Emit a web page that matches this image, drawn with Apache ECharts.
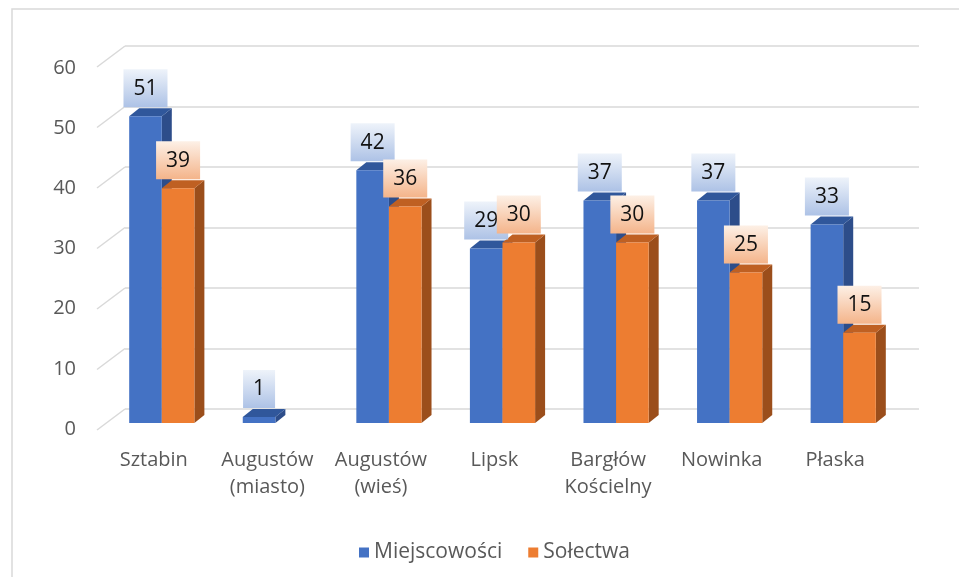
<!DOCTYPE html>
<html>
<head>
<meta charset="utf-8">
<script src="https://cdn.jsdelivr.net/npm/echarts@6/dist/echarts.min.js"></script>
<style>
html,body{margin:0;padding:0;background:#fff;}
#chart{width:959px;height:577px;}
</style>
</head>
<body>
<div id="chart"></div>
<script>
const categories = ['Sztabin', 'Augustów\n(miasto)', 'Augustów\n(wieś)', 'Lipsk', 'Bargłów\nKościelny', 'Nowinka', 'Płaska'];
const miejscowosci = [51, 1, 42, 29, 37, 37, 33];
const solectwa = [39, null, 36, 30, 30, 25, 15];
const yTicks = [0, 10, 20, 30, 40, 50, 60];
const seriesNames = ['Miejscowości', 'Sołectwa'];

const FONT = '"Open Sans", "Noto Sans", sans-serif';
const DX = 10, DY = 8;          // bar depth
const WALL_DX = -28, WALL_DY = 21; // floor/wall depth for grid diagonals

const palette = [
  { front: '#4472c4', side: '#2d4d8a', top: '#30579b', lab0: '#eef3fa', lab1: '#adc2e6' },
  { front: '#ed7d31', side: '#9b4e1b', top: '#bf6022', lab0: '#fdf0e6', lab1: '#f4b48a' }
];

function barRenderer(sIdx) {
  return function (params, api) {
    const ci = api.value(0), v = api.value(1);
    if (v == null || isNaN(v)) return null;
    const base = api.coord([ci, 0]);
    const topP = api.coord([ci, v]);
    const band = api.size([1, 0])[0];
    const w = band * 0.287;
    const x0 = sIdx === 0 ? base[0] - w : base[0];
    const x1 = x0 + w;
    const yB = base[1], yT = topP[1];
    const c = palette[sIdx];
    const z = sIdx + 1;
    return {
      type: 'group',
      children: [
        { type: 'polygon', z2: z, shape: { points: [[x1, yB], [x1 + DX, yB - DY], [x1 + DX, yT - DY], [x1, yT]] }, style: { fill: c.side } },
        { type: 'polygon', z2: z, shape: { points: [[x0, yT], [x0 + DX, yT - DY], [x1 + DX, yT - DY], [x1, yT]] }, style: { fill: c.top } },
        { type: 'rect', z2: z, shape: { x: x0, y: yT, width: w, height: yB - yT }, style: { fill: c.front } },
        {
          type: 'text', z2: 20, x: (x0 + x1) / 2, y: yT - DY - 1,
          style: {
            text: String(v), fill: '#111111', font: '21px ' + FONT,
            align: 'center', verticalAlign: 'bottom',
            padding: [9, 10, 8, 10],
            backgroundColor: new echarts.graphic.LinearGradient(0, 0, 0, 1, [
              { offset: 0, color: c.lab0 }, { offset: 1, color: c.lab1 }
            ])
          }
        }
      ]
    };
  };
}

const chart = echarts.init(document.getElementById('chart'), null, { renderer: 'canvas' });
const option = {
  animation: false,
  backgroundColor: '#fff',
  color: [palette[0].front, palette[1].front],
  graphic: [{
    type: 'rect', silent: true, z: -10,
    shape: { x: 12, y: 9, width: 1200, height: 1200 },
    style: { fill: 'none', stroke: '#d9d9d9', lineWidth: 1.5 }
  }],
  grid: [
    { left: 105, right: 59, top: 62, bottom: 154 },   // bars
    { left: 125, right: 40, top: 46, bottom: 168 },   // back wall gridlines
    { left: 84, width: 10, top: 68, bottom: 148 }     // front y labels
  ],
  xAxis: [
    {
      gridIndex: 0, type: 'category', data: categories,
      axisLine: { show: false }, axisTick: { show: false },
      axisLabel: {
        interval: 0, margin: 24, color: '#595959', fontSize: 20, fontFamily: FONT,
        lineHeight: 27, padding: [0, 16, 0, 0]
      }
    },
    { gridIndex: 1, type: 'value', min: 0, max: 1, show: false },
    { gridIndex: 2, type: 'value', min: 0, max: 1, show: false }
  ],
  yAxis: [
    { gridIndex: 0, type: 'value', min: 0, max: 60, interval: 10, show: false },
    {
      gridIndex: 1, type: 'value', min: 0, max: 60, interval: 10,
      axisLine: { show: false }, axisTick: { show: false }, axisLabel: { show: false },
      splitLine: { show: true, lineStyle: { color: '#d9d9d9', width: 1.5 } }
    },
    {
      gridIndex: 2, type: 'value', min: 0, max: 60, interval: 10,
      axisLine: { show: false }, axisTick: { show: false }, splitLine: { show: false },
      axisLabel: { margin: 8, color: '#595959', fontSize: 20, fontFamily: FONT }
    }
  ],
  legend: {
    data: seriesNames, left: 354, top: 537, icon: 'rect',
    itemWidth: 10, itemHeight: 10, itemGap: 26,
    textStyle: { color: '#595959', fontSize: 21, fontFamily: FONT }
  },
  series: [
    {
      type: 'custom', name: 'wall', xAxisIndex: 1, yAxisIndex: 1, silent: true,
      data: yTicks.map(v => [0, v]),
      renderItem: function (params, api) {
        const p = api.coord([api.value(0), api.value(1)]);
        return {
          type: 'line',
          shape: { x1: p[0], y1: p[1], x2: p[0] + WALL_DX, y2: p[1] + WALL_DY },
          style: { stroke: '#d9d9d9', lineWidth: 1.5 }
        };
      }
    },
    {
      type: 'custom', name: seriesNames[0], xAxisIndex: 0, yAxisIndex: 0,
      itemStyle: { color: palette[0].front },
      encode: { x: 0, y: 1 },
      data: miejscowosci.map((v, i) => [i, v]).filter(d => d[1] != null),
      renderItem: barRenderer(0)
    },
    {
      type: 'custom', name: seriesNames[1], xAxisIndex: 0, yAxisIndex: 0,
      itemStyle: { color: palette[1].front },
      encode: { x: 0, y: 1 },
      data: solectwa.map((v, i) => [i, v]).filter(d => d[1] != null),
      renderItem: barRenderer(1)
    }
  ]
};
chart.setOption(option);
</script>
</body>
</html>
